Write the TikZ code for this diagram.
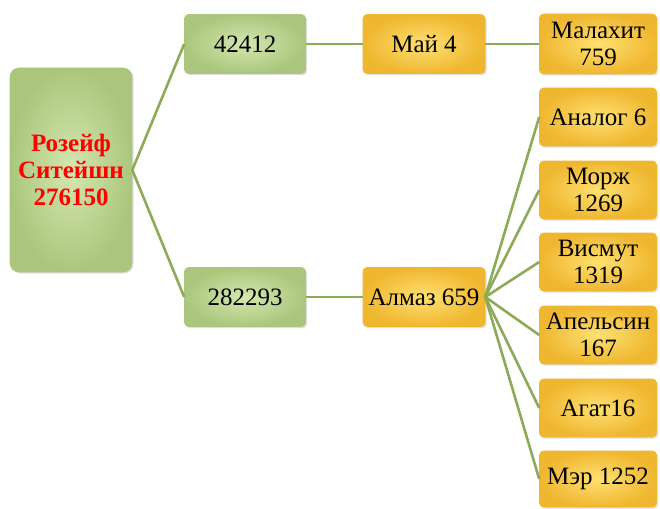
\documentclass[tikz,border=0pt]{standalone}
\usepackage{fontspec}
\setmainfont{Liberation Serif}
\usetikzlibrary{shadows}

\definecolor{grnin}{HTML}{D4E7B0}
\definecolor{grnout}{HTML}{ABC67C}
\definecolor{ylwin}{HTML}{FFE072}
\definecolor{ylwout}{HTML}{EFB730}
\definecolor{linkc}{HTML}{8CAA58}

\begin{document}
\begin{tikzpicture}[x=1pt,y=-1pt,
    box/.style={rectangle, rounded corners=4pt, align=center, inner sep=0pt,
        font=\fontsize{25}{27}\selectfont,
        drop shadow={shadow xshift=1.5pt, shadow yshift=-1.5pt, opacity=0.25}},
    gbox/.style={box, draw=grnout, line width=0.6pt, inner color=grnin, outer color=grnout},
    ybox/.style={box, draw=ylwout, line width=0.6pt, inner color=ylwin, outer color=ylwout},
    link/.style={draw=linkc, line width=2.6pt}]

    \useasboundingbox (0,0) rectangle (660,508);

    % Root
    \node[gbox, rounded corners=9pt, minimum width=122pt, minimum height=204pt, text=red,
          font=\fontsize{25}{27}\selectfont\bfseries] (root) at (71,170)
          {Розейф\\Ситейшн\\276150};

    % Second level
    \node[gbox, minimum width=121pt, minimum height=59pt] (n1) at (245,44) {42412};
    \node[gbox, minimum width=121pt, minimum height=59pt] (n2) at (245,297) {282293};

    % Third level
    \node[ybox, minimum width=122pt, minimum height=59pt] (m1) at (424,44) {Май 4};
    \node[ybox, minimum width=122pt, minimum height=59pt] (m2) at (424,297) {Алмаз 659};

    % Leaves
    \node[ybox, minimum width=117pt, minimum height=60pt] (k1) at (598,44) {Малахит\\759};
    \node[ybox, minimum width=117pt, minimum height=58pt] (k2) at (598,117) {Аналог 6};
    \node[ybox, minimum width=117pt, minimum height=58pt] (k3) at (598,190) {Морж\\1269};
    \node[ybox, minimum width=117pt, minimum height=58pt] (k4) at (598,262) {Висмут\\1319};
    \node[ybox, minimum width=117pt, minimum height=58pt] (k5) at (598,335) {Апельсин\\167};
    \node[ybox, minimum width=117pt, minimum height=58pt] (k6) at (598,408) {Агат16};
    \node[ybox, minimum width=117pt, minimum height=56pt] (k7) at (598,479) {Мэр 1252};

    % Links
    \path[link] (root.east) -- (n1.west);
    \path[link] (root.east) -- (n2.west);
    \path[link] (n1.east) -- (m1.west);
    \path[link] (n2.east) -- (m2.west);
    \path[link] (m1.east) -- (k1.west);
    \foreach \k in {k2,k3,k4,k5,k6,k7}
        \path[link] (m2.east) -- (\k.west);

\end{tikzpicture}
\end{document}
